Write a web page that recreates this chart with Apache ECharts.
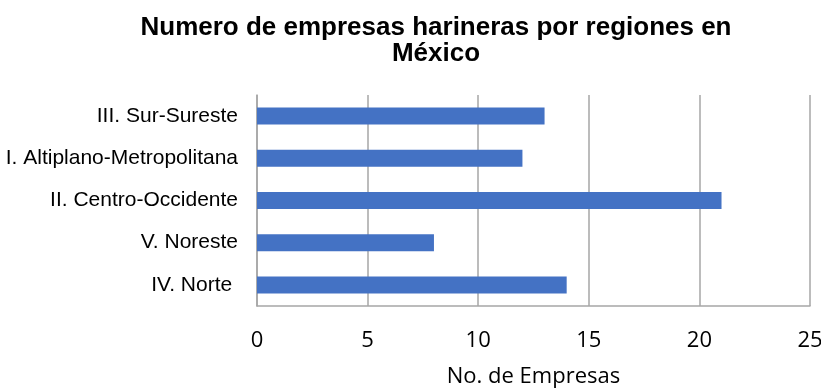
<!DOCTYPE html>
<html>
<head>
<meta charset="utf-8">
<script src="https://cdn.jsdelivr.net/npm/echarts@6/dist/echarts.min.js"></script>
<style>
  html, body { margin: 0; padding: 0; background: #fff; }
  #chart { width: 821px; height: 391px; }
</style>
</head>
<body>
<div id="chart"></div>
<script>
// Regions, listed bottom-to-top as drawn on the category axis
const regions = ['IV. Norte ', 'V. Noreste', 'II. Centro-Occidente', 'I. Altiplano-Metropolitana', 'III. Sur-Sureste'];
const companies = [14, 8, 21, 12, 13];
const xTicks = [0, 5, 10, 15, 20, 25];

const chart = echarts.init(document.getElementById('chart'));
chart.setOption({
  animation: false,
  title: {
    text: 'Numero de empresas harineras por regiones en\nMéxico',
    left: 431,
    textAlign: 'center',
    top: 10,
    textStyle: {
      fontFamily: 'Liberation Sans, Arial, sans-serif',
      fontWeight: 'bold',
      fontSize: 26,
      lineHeight: 26,
      color: '#000'
    }
  },
  grid: {
    left: 257, right: 11, top: 95, bottom: 85,
    containLabel: false,
    outerBoundsMode: 'none'
  },
  xAxis: {
    type: 'value',
    min: xTicks[0],
    max: xTicks[xTicks.length - 1],
    interval: 5,
    name: 'No. de Empresas',
    nameLocation: 'middle',
    nameGap: 60,
    nameTextStyle: { fontFamily: 'Open Sans, sans-serif', fontSize: 22, color: '#000' },
    axisLine: { show: true, lineStyle: { color: '#a6a6a6', width: 1.5 } },
    axisTick: { show: false },
    axisLabel: {
      margin: 24,
      fontFamily: 'Open Sans, sans-serif',
      fontSize: 22,
      color: '#000'
    },
    splitLine: { show: true, lineStyle: { color: '#a6a6a6', width: 1.5 } }
  },
  yAxis: {
    type: 'category',
    data: regions,
    axisLine: { show: true, lineStyle: { color: '#a6a6a6', width: 1.5 } },
    axisTick: { show: false },
    axisLabel: {
      margin: 19,
      fontFamily: 'Liberation Sans, Arial, sans-serif',
      fontSize: 21,
      color: '#000'
    }
  },
  series: [{
    type: 'bar',
    data: companies,
    barWidth: 17,
    itemStyle: { color: '#4472c4' }
  }]
});
</script>
</body>
</html>
